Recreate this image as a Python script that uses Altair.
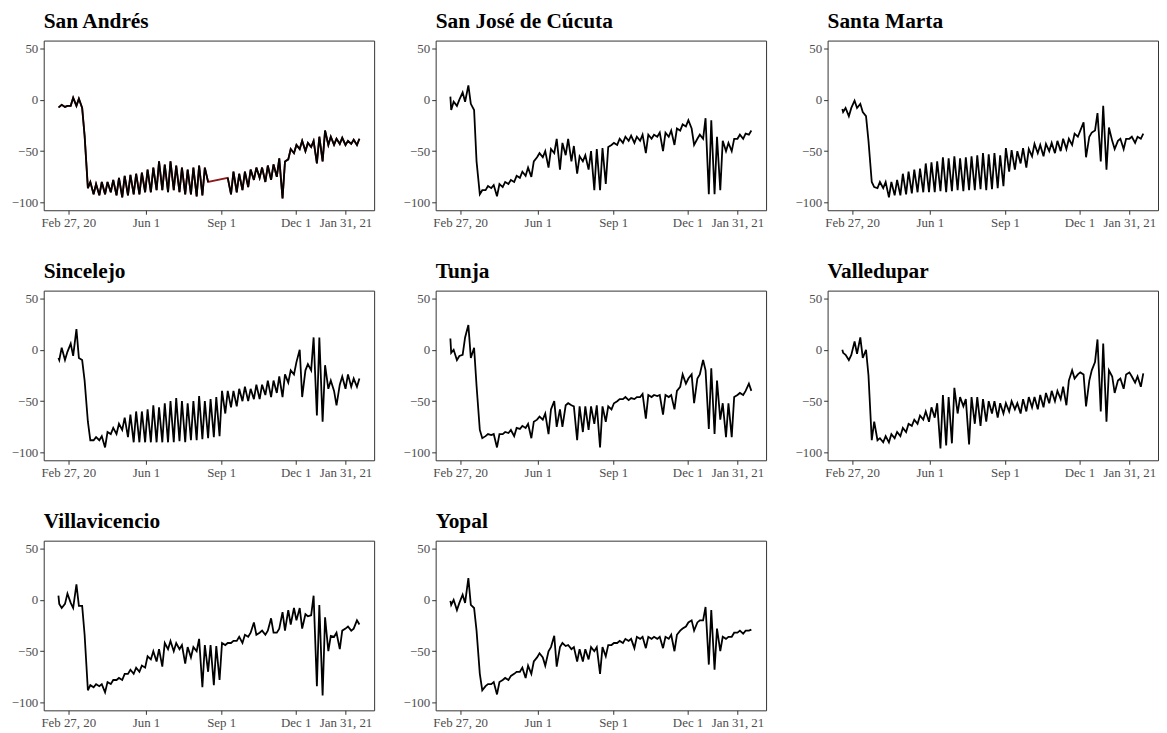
import altair as alt
import pandas as pd

cities = ["San Andrés", "San José de Cúcuta", "Santa Marta",
          "Sincelejo", "Tunja", "Valledupar",
          "Villavicencio", "Yopal"]

# time index: first day, then each week's Sunday and Wednesday
start = pd.Timestamp("2020-02-15")
offsets = [0] + [d for k in range(53) for d in (1 + 7 * k, 4 + 7 * k)]
dates = [(start + pd.Timedelta(days=o)).strftime("%Y-%m-%d") for o in offsets]

N = None
san_andres = [-7, -7, -5, -7, -6, -6, 2, -6, 1, -8, -35,
              -86, -80, -92, -82, -93, -80, -92, -80, -90, -78,
              -93, -76, -95, -74, -93, -73, -92, -72, -92, -71,
              -90, -68, -90, -66, -88, -60, -88, -63, -90, -60,
              -88, -64, -90, -66, -92, -68, -92, -66, -94, -64,
              -93, -66, -80, N, N, N, N, N, N, -76,
              -92, -70, -90, -72, -88, -70, -85, -68, -78, -66,
              -76, -66, -80, -64, -78, -63, -75, -57, -96, -60,
              -58, -48, -52, -44, -48, -40, -50, -42, -46, -40,
              -62, -36, -60, -30, -44, -36, -44, -38, -43, -37,
              -44, -40, -43, -39, -44, -38]
cucuta = [3, -10, -2, -6, 0, 7, -2, 14, -4, -10, -60,
          -92, -88, -88, -84, -86, -83, -94, -82, -85, -80,
          -82, -78, -80, -74, -76, -70, -74, -66, -75, -60,
          -56, -52, -56, -50, -66, -48, -52, -38, -68, -42,
          -54, -38, -60, -45, -72, -55, -60, -54, -68, -50,
          -88, -48, -88, -47, -82, -46, -44, -42, -44, -38,
          -42, -36, -40, -35, -42, -36, -40, -34, -52, -34,
          -38, -34, -36, -32, -50, -32, -36, -30, -44, -28,
          -30, -24, -26, -20, -28, -44, -38, -34, -38, -18,
          -92, -20, -92, -36, -88, -40, -50, -42, -50, -38,
          -38, -34, -38, -33, -34, -30]
santa_marta = [-9, -12, -8, -16, -8, -1, -8, -4, -12, -16, -40,
               -80, -85, -86, -80, -86, -80, -95, -80, -93, -78,
               -93, -72, -92, -70, -91, -68, -90, -67, -90, -62,
               -90, -61, -90, -60, -89, -56, -90, -57, -89, -55,
               -88, -57, -89, -56, -88, -55, -88, -54, -87, -52,
               -88, -53, -87, -52, -86, -54, -84, -47, -70, -49,
               -68, -50, -62, -47, -66, -48, -55, -43, -52, -44,
               -55, -43, -50, -42, -52, -40, -50, -38, -48, -38,
               -44, -33, -36, -30, -22, -56, -36, -32, -30, -13,
               -60, -6, -68, -27, -40, -48, -40, -38, -48, -38,
               -38, -36, -42, -36, -38, -33]
sincelejo = [-8, -10, 2, -10, -2, 6, -6, 20, -8, -10, -30,
             -70, -88, -88, -85, -88, -84, -95, -80, -82, -76,
             -82, -72, -78, -66, -85, -63, -90, -60, -90, -60,
             -90, -58, -90, -54, -90, -56, -90, -52, -90, -50,
             -90, -47, -89, -50, -90, -52, -88, -50, -88, -45,
             -87, -50, -86, -48, -85, -46, -84, -40, -62, -40,
             -56, -40, -55, -38, -50, -36, -50, -38, -48, -34,
             -48, -34, -44, -30, -46, -30, -42, -26, -46, -24,
             -32, -20, -24, -12, 0, -46, -20, -14, -20, 12,
             -64, 12, -70, -15, -38, -30, -40, -54, -34, -26,
             -38, -24, -36, -28, -36, -28]
tunja = [11, -3, 0, -10, -6, -5, 12, 24, -8, 2, -35,
         -78, -86, -84, -82, -83, -82, -95, -82, -82, -80,
         -81, -78, -84, -76, -77, -74, -76, -72, -86, -70,
         -68, -65, -68, -62, -82, -58, -50, -75, -58, -75,
         -54, -52, -54, -55, -88, -55, -80, -55, -78, -55,
         -72, -54, -95, -55, -70, -55, -58, -52, -50, -48,
         -48, -46, -49, -47, -48, -46, -46, -43, -67, -44,
         -46, -44, -45, -44, -63, -44, -46, -44, -58, -40,
         -36, -24, -33, -28, -24, -52, -28, -24, -10, -20,
         -77, -18, -82, -30, -68, -52, -85, -52, -85, -46,
         -44, -42, -44, -40, -33, -40]
valledupar = [0, -3, -5, -10, -5, 8, -4, 12, -8, 0, -25,
              -88, -70, -88, -86, -90, -84, -90, -82, -86, -80,
              -84, -76, -80, -72, -74, -68, -72, -64, -68, -60,
              -70, -56, -66, -52, -96, -44, -93, -46, -91, -37,
              -62, -46, -55, -48, -92, -46, -72, -46, -74, -48,
              -70, -50, -62, -50, -66, -52, -62, -52, -60, -50,
              -58, -52, -62, -48, -60, -46, -56, -46, -58, -44,
              -56, -42, -52, -40, -50, -40, -48, -36, -54, -30,
              -20, -28, -24, -22, -24, -55, -30, -20, -12, 10,
              -60, 6, -70, -20, -26, -42, -30, -28, -38, -24,
              -22, -26, -32, -26, -36, -23]
villavicencio = [4, -4, -8, -4, 6, -3, -8, 15, -6, -6, -34,
                 -88, -83, -85, -82, -84, -82, -90, -80, -82, -78,
                 -78, -76, -78, -72, -72, -68, -72, -66, -70, -64,
                 -66, -55, -58, -50, -60, -48, -65, -42, -48, -40,
                 -50, -42, -48, -44, -62, -46, -56, -46, -50, -38,
                 -85, -44, -70, -44, -83, -45, -78, -42, -44, -42,
                 -42, -40, -40, -36, -42, -34, -36, -32, -22, -34,
                 -32, -30, -34, -30, -18, -32, -32, -28, -12, -30,
                 -10, -24, -8, -20, -8, -28, -14, -16, -15, 4,
                 -84, -5, -93, -17, -50, -35, -36, -32, -48, -30,
                 -28, -26, -30, -28, -20, -24]
yopal = [-1, -5, 0, -10, -3, 5, -3, 21, -5, -8, -30,
         -72, -88, -84, -82, -82, -80, -92, -80, -78, -76,
         -78, -74, -72, -70, -70, -66, -76, -64, -72, -60,
         -56, -52, -56, -64, -50, -46, -35, -65, -46, -42,
         -45, -44, -48, -46, -60, -48, -60, -48, -58, -46,
         -50, -46, -72, -46, -55, -44, -44, -42, -42, -40,
         -42, -38, -40, -38, -47, -36, -38, -36, -47, -36,
         -38, -36, -38, -36, -47, -36, -38, -34, -50, -34,
         -30, -28, -26, -22, -20, -30, -22, -20, -20, -7,
         -63, -10, -68, -28, -50, -36, -38, -36, -36, -32,
         -32, -30, -33, -30, -30, -29]

series = [san_andres, cucuta, santa_marta, sincelejo, tunja,
          valledupar, villavicencio, yopal]

tick_dates = ["2020-02-27", "2020-06-01", "2020-09-01", "2020-12-01", "2021-01-31"]
tick_labels = ["Feb 27, 20", "Jun 1", "Sep 1", "Dec 1", "Jan 31, 21"]
y_ticks = [50, 0, -50, -100]
y_domain = [-107.5, 57.5]
x_domain_dates = ["2020-01-28", "2021-03-07"]

rows = []
for city, vals in zip(cities, series):
    assert len(vals) == len(dates), (city, len(vals))
    seg = 0
    for d, v in zip(dates, vals):
        if v is None:
            seg = 1
            continue
        rows.append({"city": city, "date": d, "value": v, "seg": seg})
df = pd.DataFrame(rows)


def ms(d):
    return int(pd.Timestamp(d, tz="UTC").value // 10**6)


tick_ms = [ms(d) for d in tick_dates]
x_domain = [ms(d) for d in x_domain_dates]
label_expr = "''"
for d, lab in reversed(list(zip(tick_dates, tick_labels))):
    label_expr = (f"utcFormat(datum.value, '%Y-%m-%d') == '{d}' ? '{lab}' : "
                  f"({label_expr})")

FONT = "Liberation Serif"

x_enc = alt.X("date:T",
              scale=alt.Scale(type="utc", domain=x_domain, nice=False),
              axis=alt.Axis(values=tick_ms, labelExpr=label_expr, title=None,
                            labelOverlap=False, labelFlush=False))
y_enc = alt.Y("value:Q",
              scale=alt.Scale(domain=y_domain, nice=False, zero=False),
              axis=alt.Axis(values=y_ticks, title=None))


def panel(city):
    base = alt.Chart(df).transform_filter(alt.datum.city == city)
    layers = []
    if city == "San Andrés":
        layers.append(base.mark_line(color="#8B1A1A", strokeWidth=1.8)
                      .encode(x=x_enc, y=y_enc))
    layers.append(base.mark_line(color="black", strokeWidth=1.8)
                  .encode(x=x_enc, y=y_enc, detail="seg:N"))
    return alt.layer(*layers).properties(
        width=333, height=171,
        title=alt.Title(city, anchor="start", frame="group", font=FONT,
                        fontSize=21.5, fontWeight="bold", color="black",
                        baseline="bottom", offset=-14))


p = [panel(c) for c in cities]
chart = alt.vconcat(
    alt.hconcat(p[0], p[1], p[2], spacing=27),
    alt.hconcat(p[3], p[4], p[5], spacing=27),
    alt.hconcat(p[6], p[7], spacing=27),
    spacing=31,
).properties(
    padding={"left": 2, "top": 0, "right": 0, "bottom": 0},
    background="white",
).configure_axis(
    labelFont=FONT, labelFontSize=13, labelColor="#4d4d4d",
    tickColor="#333333", tickSize=4, tickWidth=1, labelPadding=2,
    domain=False, grid=False,
).configure_view(
    stroke="#333333", strokeWidth=1,
)

chart.save("out.html", embed_options={"renderer": "svg", "actions": False})
